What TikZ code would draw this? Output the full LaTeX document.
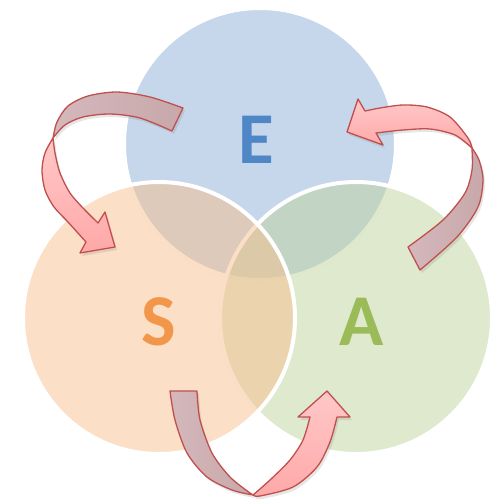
\documentclass[tikz,border=0pt]{standalone}
\usepackage{fontspec}
\newfontfamily\vennfont{Carlito}
\usetikzlibrary{shadows}
\definecolor{efill}{RGB}{141,173,215}
\definecolor{sfill}{RGB}{247,191,141}
\definecolor{afill}{RGB}{191,211,157}
\definecolor{eblue}{RGB}{79,134,198}
\definecolor{sorange}{RGB}{242,150,74}
\definecolor{agreen}{RGB}{155,187,89}
\definecolor{arrowred}{RGB}{192,80,77}
\definecolor{frontlight}{RGB}{255,200,200}
\definecolor{frontdark}{RGB}{255,168,168}
\definecolor{backlight}{RGB}{212,184,188}
\definecolor{backdark}{RGB}{200,168,170}
\begin{document}
\begin{tikzpicture}[x = 1pt, y = -1pt,
        setcircle/.style = {draw = white, line width = 4pt, fill opacity = 0.5},
        setletter/.style = {font = {\vennfont\bfseries\fontsize{73}{73}\selectfont}},
        ribbon/.style = {draw = arrowred, line width = 1.3pt, line join = round,
            drop shadow = {opacity = 0.2, shadow xshift = 2pt, shadow yshift = -3pt}},
        backface/.style = {ribbon, left color = backlight, right color = backdark},
        frontface/.style = {ribbon, top color = frontlight, bottom color = frontdark}]
    \useasboundingbox (0, 0) rectangle (491, 501);

    % the three sets
    \draw[setcircle, fill = efill] (260, 144) circle (136);
    \draw[setcircle, fill = afill] (356, 318) circle (136);
    \draw[setcircle, fill = sfill] (159, 318) circle (136);

    \node[setletter, text = eblue] (E) at (256, 140) {E};
    \node[setletter, text = sorange] (S) at (159, 322) {S};
    \node[setletter, text = agreen] (A) at (362, 322) {A};

    % E to S
    \path[backface] plot[smooth] coordinates {(183, 108) (150, 97) (117, 92) (88, 96) (68, 106) (57, 122) (53, 138)}
        -- plot[smooth] coordinates {(53, 138) (65, 125) (83, 117) (110, 114) (140, 118) (172, 131)} -- cycle;
    \path[frontface] plot[smooth] coordinates {(53, 138) (45, 153) (42, 170) (45, 190) (54, 207) (68, 222) (86, 242)}
        -- (80, 253) -- (115, 247) -- (105, 212)
        -- plot[smooth] coordinates {(98, 223) (83, 208) (70, 193) (60, 173) (55, 153) (53, 138)} -- cycle;

    % A to E
    \path[backface] plot[smooth] coordinates {(420, 270) (457, 237) (478, 207) (483, 180) (479, 160) (472, 148)}
        -- plot[smooth] coordinates {(472, 150) (472, 170) (465, 193) (443, 220) (408, 247)} -- cycle;
    \path[frontface] plot[smooth] coordinates {(472, 148) (468, 138) (450, 117) (427, 107) (403, 105) (380, 108) (365, 111)}
        -- (358, 99) -- (347, 132) -- (383, 145)
        -- plot[smooth] coordinates {(376, 133) (403, 130) (430, 129) (455, 135) (472, 148)} -- cycle;

    % S to A
    \path[backface] plot[smooth] coordinates {(170, 391) (175, 420) (187, 453) (207, 477) (232, 490) (253, 495)}
        -- plot[smooth] coordinates {(250, 493) (230, 477) (212, 453) (200, 420) (197, 391)} -- cycle;
    \path[frontface] plot[smooth] coordinates {(253, 495) (260, 496) (293, 487) (317, 467) (330, 442) (337, 417)}
        -- (350, 417) -- (327, 391) -- (298, 417)
        -- plot[smooth] coordinates {(310, 417) (303, 440) (290, 460) (270, 480) (253, 495)} -- cycle;
\end{tikzpicture}
\end{document}
